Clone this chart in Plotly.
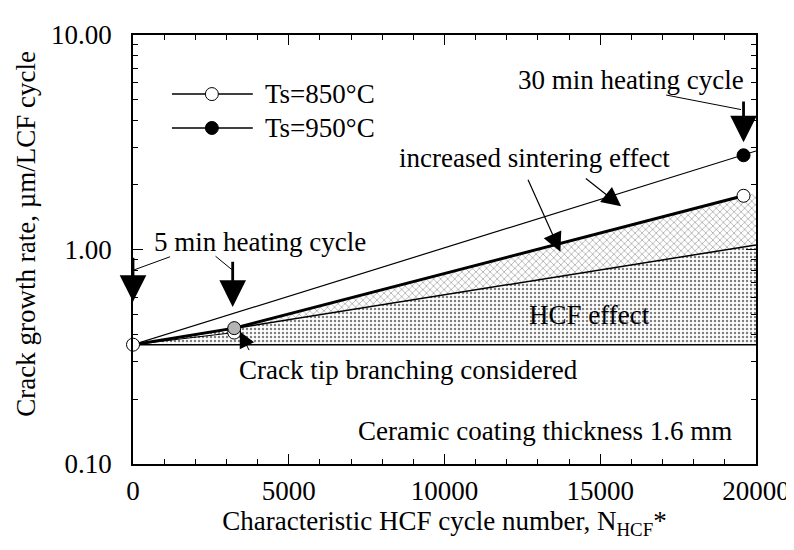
import numpy as np
import plotly.graph_objects as go

# ---------------- data ----------------
x_span = [0, 20000]
baseline_y = [0.36, 0.36]          # LCF-only crack growth rate
hcf_y = [0.36, 1.05]               # HCF effect upper bound
sinter_x = [0, 3250, 19600, 20000]
sinter_y = [0.36, 0.43, 1.78, 1.83]  # upper bound of increased sintering region
thick_x = [0, 3250, 19600]
thick_y = [0.36, 0.43, 1.78]
ts850_x = [0, 3250, 19600]
ts850_y = [0.36, 0.41, 1.78]
ts950_line_x = [0, 19600, 20000]
ts950_line_y = [0.36, 2.75, 2.88]
ts950_x = [19600]
ts950_y = [2.75]
branch_x = [3250]
branch_y = [0.43]

x_ticks = [0, 5000, 10000, 15000, 20000]
x_ticktext = ["0", "5000", "10000", "15000", "20000"]
y_ticks = [0.1, 1, 10]
y_ticktext = ["0.10", "1.00", "10.00"]
y_minor = [m * 10.0 ** e for e in (-1, 0) for m in range(2, 10)]

FONT = "Liberation Serif"
FS = 27
L = np.log10

fig = go.Figure()

fig.add_trace(go.Scatter(x=x_span, y=baseline_y, mode="lines",
                         line=dict(color="black", width=1.5), showlegend=False))
fig.add_trace(go.Scatter(x=x_span, y=hcf_y, mode="lines", fill="tonexty",
                         fillcolor="white",
                         fillpattern=dict(shape=".", fgcolor="black", bgcolor="white",
                                          size=4, solidity=0.3),
                         line=dict(color="black", width=1.5), showlegend=False))
fig.add_trace(go.Scatter(x=sinter_x, y=sinter_y, mode="lines", fill="tonexty",
                         fillcolor="white",
                         fillpattern=dict(shape="x", fgcolor="black", bgcolor="white",
                                          size=5, solidity=0.2),
                         line=dict(color="rgba(0,0,0,0)", width=0), showlegend=False))
fig.add_trace(go.Scatter(x=thick_x, y=thick_y, mode="lines",
                         line=dict(color="black", width=3), showlegend=False))
fig.add_trace(go.Scatter(x=ts850_x[:2], y=ts850_y[:2], mode="lines",
                         line=dict(color="black", width=1), showlegend=False))
fig.add_trace(go.Scatter(x=ts950_line_x, y=ts950_line_y, mode="lines",
                         line=dict(color="black", width=1.2), showlegend=False))
fig.add_trace(go.Scatter(x=ts850_x, y=ts850_y, mode="markers", name="Ts=850°C",
                         marker=dict(symbol="circle", size=13, color="white",
                                     line=dict(color="black", width=1)),
                         showlegend=False, cliponaxis=False))
fig.add_trace(go.Scatter(x=branch_x, y=branch_y, mode="markers",
                         marker=dict(symbol="circle", size=13, color="#b5b5b5",
                                     line=dict(color="black", width=1)),
                         showlegend=False, cliponaxis=False))
fig.add_trace(go.Scatter(x=ts950_x, y=ts950_y, mode="markers", name="Ts=950°C",
                         marker=dict(symbol="circle", size=13, color="black",
                                     line=dict(color="black", width=1)),
                         showlegend=False, cliponaxis=False))

ann = []
shapes = []

def txt(x, y, s, xanchor="left"):
    ann.append(dict(x=x, y=L(y), xref="x", yref="y", text=s, showarrow=False,
                    xanchor=xanchor, yanchor="middle",
                    font=dict(family=FONT, size=FS, color="black")))

def arrow(x, y, ax, ay, width=2.8, size=1.9, head=2):
    ann.append(dict(x=x, y=L(y), ax=ax, ay=L(ay), xref="x", yref="y",
                    axref="x", ayref="y", text="", showarrow=True,
                    arrowhead=head, arrowsize=size, arrowwidth=width,
                    arrowcolor="black"))

def leader(x0, y0, x1, y1):
    shapes.append(dict(type="line", xref="x", yref="y", x0=x0, y0=y0, x1=x1, y1=y1,
                       line=dict(color="black", width=1)))

# 5 min heating cycle
txt(600, 1.08, "5 min heating cycle")
leader(1190, 0.925, 0, 0.80)
leader(2650, 0.93, 3200, 0.80)
arrow(ts850_x[0], 0.57, ts850_x[0], 0.93)
arrow(3200, 0.54, 3200, 0.89)

# 30 min heating cycle
txt(19680, 6.2, "30 min heating cycle", xanchor="right")
leader(17115, 5.25, 19520, 4.49)
arrow(ts950_x[0], 3.16, ts950_x[0], 4.98)

# increased sintering effect
txt(17310, 2.67, "increased sintering effect", xanchor="right")
arrow(15670, 1.59, 14490, 2.17, width=1.2, size=3.2)
arrow(13720, 0.975, 12660, 2.15, width=1.2, size=3.2)

# HCF effect
txt(16670, 0.495, "HCF effect", xanchor="right")

# crack tip branching
txt(3330, 0.274, "Crack tip branching considered")
arrow(3430, 0.415, 3750, 0.334, width=1, size=3.2)

# coating thickness
txt(19290, 0.142, "Ceramic coating thickness 1.6 mm", xanchor="right")

# y-axis title (placed as in the reference, slightly above centre)
PX0, PW, PY0, PH = 133, 624, 21, 443
def px(p):
    return (p - PX0) / PW
def py(p):
    return 1 - (p - PY0) / PH

ann.append(dict(x=px(25), y=py(226), xref="paper", yref="paper",
                text="Crack growth rate, µm/LCF cycle", textangle=-90,
                showarrow=False, xanchor="center", yanchor="middle",
                font=dict(family=FONT, size=FS, color="black")))

# manual legend
for row_y, label, fillc in [(82, "Ts=850°C", "white"), (117, "Ts=950°C", "black")]:
    shapes.append(dict(type="line", xref="paper", yref="paper",
                       x0=px(172), x1=px(253), y0=py(row_y), y1=py(row_y),
                       line=dict(color="black", width=1.5)))
    shapes.append(dict(type="circle", xref="paper", yref="paper",
                       xsizemode="pixel", ysizemode="pixel",
                       xanchor=px(212), yanchor=py(row_y),
                       x0=-6.5, x1=6.5, y0=-6.5, y1=6.5,
                       fillcolor=fillc, line=dict(color="black", width=1)))
    ann.append(dict(x=px(263), y=py(row_y), xref="paper", yref="paper",
                    text=label, showarrow=False, xanchor="left", yanchor="middle",
                    font=dict(family=FONT, size=FS, color="black")))

# page body has an 8px margin: shift the margins so the plot box lands
# at x 133..757, y 21..464 in the 794x550 window
fig.update_layout(
    width=794, height=550,
    margin=dict(l=125, r=45, t=13, b=94),
    paper_bgcolor="white", plot_bgcolor="white",
    font=dict(family=FONT, size=FS, color="black"),
    annotations=ann, shapes=shapes,
    showlegend=False,
)
fig.update_xaxes(
    range=[0, 20000], tickmode="array", tickvals=x_ticks, ticktext=x_ticktext,
    ticks="inside", ticklen=10, tickwidth=1, tickcolor="black",
    minor=dict(dtick=1000, ticks="inside", ticklen=5, tickcolor="black"),
    showline=True, linecolor="black", linewidth=1.5, mirror="ticks",
    showgrid=False, zeroline=False, ticklabelstandoff=2,
    ticklabeloverflow="allow",
    title=dict(text="Characteristic HCF cycle number, N<sub>HCF</sub>*",
               font=dict(family=FONT, size=FS), standoff=0),
)
fig.update_yaxes(
    type="log", range=[-1, 1], tickmode="array", tickvals=y_ticks, ticktext=y_ticktext,
    ticks="inside", ticklen=10, tickwidth=1, tickcolor="black",
    minor=dict(tickvals=y_minor, ticks="inside", ticklen=5, tickcolor="black"),
    showline=True, linecolor="black", linewidth=1.5, mirror="ticks",
    showgrid=False, zeroline=False, ticklabelstandoff=14,
    ticklabeloverflow="allow",
)

fig.write_html("out.html")
